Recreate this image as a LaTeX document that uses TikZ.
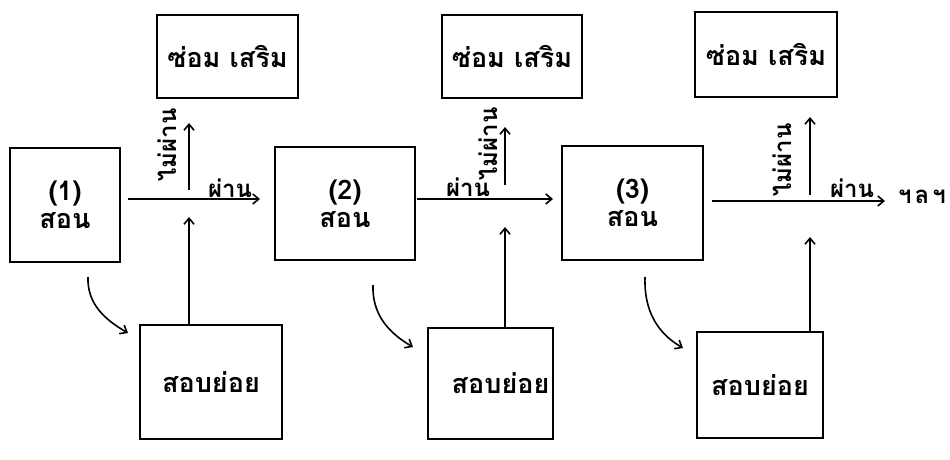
\documentclass[tikz,border=0pt]{standalone}
\usepackage{fontspec}
\newfontfamily\thaifont[Script=Thai]{Loma}
\usetikzlibrary{arrows.meta}
\begin{document}
\begin{tikzpicture}[x=1pt,y=-1pt,
  box/.style={draw,line width=2.2pt,inner sep=0pt,font=\thaifont\bfseries\fontsize{27}{28}\selectfont,align=center},
  conn/.style={line width=1.6pt,-{Straight Barb[length=6pt,width=10pt,line width=1.6pt]}},
  lbl/.style={font=\thaifont\bfseries\fontsize{24}{26}\selectfont,inner sep=0pt}]
\useasboundingbox (0,0) rectangle (950,460);
% teaching boxes
\node[box,minimum width=110pt,minimum height=114pt] (t1) at (65,205) {(1)\\สอน};
\node[box,minimum width=140pt,minimum height=113pt] (t2) at (345,203.5) {(2)\\สอน};
\node[box,minimum width=141pt,minimum height=114pt] (t3) at (632.5,203) {(3)\\สอน};
% remedial boxes
\node[box,minimum width=141pt,minimum height=83pt] (r1) at (227.5,56.5) {ซ่อม เสริม};
\node[box,minimum width=140pt,minimum height=83pt] (r2) at (512,56.5) {ซ่อม เสริม};
\node[box,minimum width=142pt,minimum height=85pt] (r3) at (766,54.5) {ซ่อม เสริม};
% quiz boxes
\node[box,minimum width=142pt,minimum height=114pt] (q1) at (211,382) {สอบย่อย};
\node[box,minimum width=125pt,minimum height=111pt] (q2) at (490.5,383.5) {\hspace*{20pt}สอบย่อย};
\node[box,minimum width=126pt,minimum height=106pt] (q3) at (760,385) {สอบย่อย};
% junction coordinates
\coordinate (s1) at (128,199); \coordinate (e1) at (260,199);
\coordinate (u1a) at (189,190); \coordinate (u1b) at (189,123);
\coordinate (b1) at (189,217);
\coordinate (s2) at (417,199); \coordinate (e2) at (553,199);
\coordinate (u2a) at (505,185); \coordinate (u2b) at (505,127);
\coordinate (b2) at (505,227);
\coordinate (s3) at (712,201); \coordinate (e3) at (885,201);
\coordinate (u3a) at (810,195); \coordinate (u3b) at (810,117);
\coordinate (b3) at (810,237);
\coordinate (c1a) at (88,277); \coordinate (c1b) at (128,333);
\coordinate (c2a) at (373,285); \coordinate (c2b) at (413,347);
\coordinate (c3a) at (645,277); \coordinate (c3b) at (683,348);
% connectors
\draw[conn] (s1) -- (e1);
\draw[conn] (u1a) -- (u1b);
\draw[conn] (q1.north -| b1) -- (b1);
\draw[conn] (s2) -- (e2);
\draw[conn] (u2a) -- (u2b);
\draw[conn] (q2.north -| b2) -- (b2);
\draw[conn] (s3) -- (e3);
\draw[conn] (u3a) -- (u3b);
\draw[conn] (q3.north -| b3) -- (b3);
\draw[conn] (c1a) to[out=-92,in=150] (c1b);
\draw[conn] (c2a) to[out=-92,in=150] (c2b);
\draw[conn] (c3a) to[out=-92,in=150] (c3b);
% labels
\node[lbl] (p1) at (230,188) {ผ่าน};
\node[lbl] (p2) at (468,187) {ผ่าน};
\node[lbl] (p3) at (852,188) {ผ่าน};
\node[lbl,rotate=90] (n1) at (167,145) {ไม่ผ่าน};
\node[lbl,rotate=90] (n2) at (488,144) {ไม่ผ่าน};
\node[lbl,rotate=90] (n3) at (782,160) {ไม่ผ่าน};
\node[lbl] (etc) at (922,197) {ฯ\hspace{3pt}ล\hspace{3pt}ฯ};
\end{tikzpicture}
\end{document}
